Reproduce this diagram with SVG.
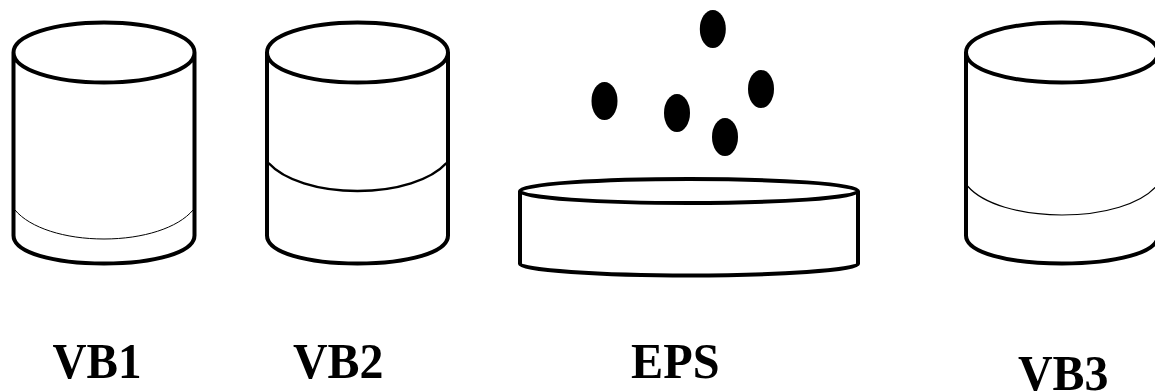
<svg xmlns="http://www.w3.org/2000/svg" width="1155" height="392" viewBox="0 0 1155 392">
  <style>
    .shell { fill: none; stroke: #000; stroke-width: 4; stroke-linejoin: round; }
    .level { fill: none; stroke: #000; }
    .bead { fill: #000; }
    .label { font-family: "Liberation Serif", "Times New Roman", serif; font-weight: bold; font-size: 50px; fill: #000; }
  </style>
  <defs>
    <!-- Cylinder shell, drawn from its top-left corner outward -->
    <path id="cyl" d="M0 0C0 -17 40 -30 90.500 -30C141 -30 181 -17 181 0C181 17 141 30 90.500 30C40 30 0 17 0 0ZM0 0V183C0 200 40 211 90.500 211C141 211 181 200 181 183V0"/>
  </defs>
  <g id="vb1">
    <use href="#cyl" class="shell" x="13.500" y="52.500"/>
    <path class="level" stroke-width="1" d="M15 210C30 228 65 239 104 239C143 239 178 228 193 210"/>
    <text class="label" x="52.500" y="378" textLength="89" lengthAdjust="spacingAndGlyphs">VB1</text>
  </g>
  <g id="vb2">
    <use href="#cyl" class="shell" x="267" y="52.500"/>
    <path class="level" stroke-width="2.500" d="M268.500 163C284 180 318 191 357.500 191C397 191 431 180 446.500 163"/>
    <text class="label" x="293" y="378" textLength="90.500" lengthAdjust="spacingAndGlyphs">VB2</text>
  </g>
  <g id="eps">
    <path class="shell" d="M520 191C520 184 600 179 689 179C778 179 858 184 858 191C858 198 778 203 689 203C600 203 520 198 520 191ZM520 191V264C520 270 600 275.500 689 275.500C778 275.500 858 270 858 264V191"/>
    <ellipse class="bead" cx="712.800" cy="29" rx="13" ry="19"/>
    <ellipse class="bead" cx="604.500" cy="101" rx="13" ry="19"/>
    <ellipse class="bead" cx="677" cy="113" rx="13" ry="19"/>
    <ellipse class="bead" cx="761" cy="89" rx="13" ry="19"/>
    <ellipse class="bead" cx="725" cy="137" rx="13" ry="19"/>
    <text class="label" x="631" y="378" textLength="88.500" lengthAdjust="spacingAndGlyphs">EPS</text>
  </g>
  <g id="vb3">
    <!-- Wider than the others: its right side runs past the edge of the canvas -->
    <path class="shell" d="M966 52.500C966 35.500 1008 22.500 1062 22.500C1116 22.500 1158 35.500 1158 52.500C1158 69.500 1116 82.500 1062 82.500C1008 82.500 966 69.500 966 52.500ZM966 52.500V235.500C966 252.500 1008 263.500 1062 263.500C1116 263.500 1158 252.500 1158 235.500V52.500"/>
    <path class="level" stroke-width="1.200" d="M967.500 186C983 204 1020 215 1062 215C1104 215 1141 204 1156.500 186"/>
    <text class="label" x="1018" y="390" textLength="90.500" lengthAdjust="spacingAndGlyphs">VB3</text>
  </g>
</svg>
